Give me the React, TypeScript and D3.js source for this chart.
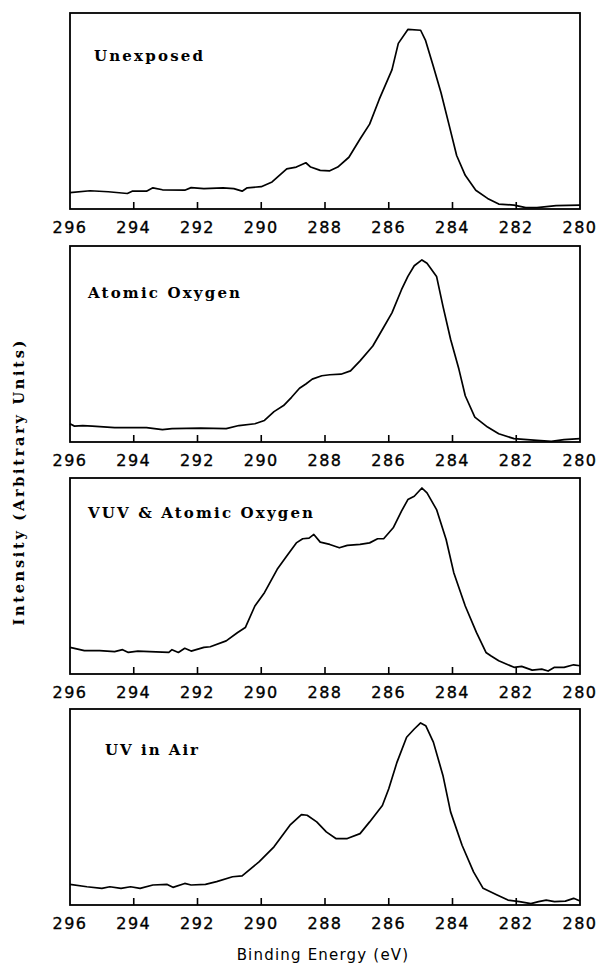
import React from "react";
import * as d3 from "d3";

// Binding energy axis (eV), reversed as usual for XPS
const energyTicks = [296, 294, 292, 290, 288, 286, 284, 282, 280];

const panelTitles = ["Unexposed", "Atomic Oxygen", "VUV & Atomic Oxygen", "UV in Air"];

// C 1s spectra, intensity in arbitrary units (0 = frame bottom, 100 = frame top)
const unexposedEnergy = [296, 295.37, 294.8, 294.2, 294.05, 293.6, 293.4, 293.1, 292.4, 292.2, 291.8, 291.2, 290.86, 290.6, 290.44, 290.0, 289.66, 289.2, 288.9, 288.6, 288.45, 288.15, 287.85, 287.6, 287.25, 286.9, 286.6, 286.3, 285.9, 285.7, 285.4, 285.0, 284.85, 284.6, 284.36, 284.1, 283.87, 283.6, 283.27, 282.9, 282.55, 282.07, 281.7, 281.35, 280.75, 280];
const unexposedIntensity = [8.4, 9.3, 8.8, 7.9, 9.1, 9.1, 10.8, 9.8, 9.6, 10.9, 10.4, 10.8, 10.4, 9.1, 10.8, 11.4, 13.8, 20.5, 21.4, 23.6, 21.4, 19.7, 19.5, 21.4, 26.4, 35.7, 43.3, 55.9, 71.0, 84.5, 91.6, 91.2, 86.2, 72.7, 59.3, 42.4, 27.3, 17.2, 9.6, 5.4, 2.5, 2.0, 0.7, 0.7, 1.7, 2.0];

const atomicOxygenEnergy = [296, 295.86, 295.6, 295.3, 294.6, 293.6, 293.1, 292.8, 291.9, 291.1, 290.7, 290.2, 289.9, 289.6, 289.3, 289.05, 288.8, 288.6, 288.4, 288.1, 287.85, 287.5, 287.2, 286.9, 286.5, 286.2, 285.9, 285.6, 285.4, 285.2, 284.96, 284.8, 284.5, 284.3, 284.06, 283.8, 283.6, 283.3, 282.9, 282.55, 282.07, 281.35, 280.9, 280.5, 280];
const atomicOxygenIntensity = [9.3, 8.1, 8.4, 8.1, 7.3, 7.3, 6.3, 6.8, 7.1, 6.8, 8.4, 9.3, 11.0, 15.5, 18.6, 22.8, 27.4, 29.6, 32.1, 33.8, 34.3, 34.6, 36.3, 41.4, 49.0, 57.4, 65.9, 77.7, 84.5, 89.9, 92.9, 91.2, 84.5, 69.3, 52.4, 37.2, 23.6, 12.7, 7.6, 4.2, 1.7, 0.8, 0.3, 1.2, 1.7];

const vuvEnergy = [296, 295.55, 295.07, 294.6, 294.35, 294.17, 293.87, 293.5, 292.9, 292.8, 292.6, 292.4, 292.2, 291.8, 291.6, 291.1, 290.74, 290.5, 290.2, 289.9, 289.5, 289.2, 288.9, 288.7, 288.5, 288.35, 288.15, 287.85, 287.55, 287.3, 286.9, 286.6, 286.35, 286.16, 285.86, 285.6, 285.4, 285.2, 284.96, 284.8, 284.5, 284.2, 283.96, 283.6, 283.25, 282.95, 282.8, 282.55, 282.07, 281.83, 281.5, 281.2, 281.0, 280.8, 280.5, 280.2, 280];
const vuvIntensity = [13.6, 11.9, 11.9, 11.4, 12.4, 11.0, 11.7, 11.4, 11.0, 12.4, 11.0, 13.1, 11.7, 13.6, 13.9, 16.9, 21.2, 23.7, 34.7, 41.5, 53.4, 60.2, 66.9, 69.0, 69.3, 71.2, 67.3, 66.1, 64.4, 65.6, 66.1, 66.9, 69.0, 69.0, 74.6, 83.1, 89.0, 90.7, 94.9, 92.4, 83.9, 68.6, 51.7, 34.7, 21.2, 11.0, 9.3, 6.8, 3.4, 3.9, 2.0, 2.5, 1.5, 3.4, 3.4, 4.7, 4.2];

const uvAirEnergy = [296, 295.47, 295.0, 294.75, 294.4, 294.1, 293.8, 293.4, 292.95, 292.77, 292.4, 292.2, 291.75, 291.4, 290.9, 290.6, 290.07, 289.6, 289.1, 288.74, 288.56, 288.26, 287.96, 287.66, 287.3, 286.9, 286.6, 286.2, 286.0, 285.74, 285.44, 285.2, 285.0, 284.84, 284.6, 284.3, 284.06, 283.7, 283.34, 283.04, 282.6, 282.26, 281.9, 281.54, 281.3, 281.06, 280.8, 280.46, 280.2, 280];
const uvAirIntensity = [10.5, 9.3, 8.5, 9.3, 8.5, 9.3, 8.5, 10.2, 10.5, 9.0, 11.0, 10.2, 10.5, 11.9, 14.4, 14.9, 22.0, 29.7, 40.7, 46.1, 45.8, 42.4, 37.3, 33.9, 33.9, 36.4, 42.4, 50.8, 59.3, 72.9, 85.6, 89.8, 92.9, 91.5, 83.1, 66.1, 47.5, 30.5, 16.9, 8.5, 5.1, 2.5, 1.7, 0.7, 1.7, 2.5, 1.7, 2.0, 3.4, 2.0];

const spectraEnergy = [unexposedEnergy, atomicOxygenEnergy, vuvEnergy, uvAirEnergy];
const spectraIntensity = [unexposedIntensity, atomicOxygenIntensity, vuvIntensity, uvAirIntensity];

const W = 600;
const H = 967;
const frameLeft = 70;
const frameRight = 580;
const panelTops = [13, 246, 478, 709];
const panelHeight = 196;
// title placement inside each frame, with the set width of each typewriter label
const titleLayout = [
  { dx: 24, dy: 48, width: 109 },
  { dx: 18, dy: 52, width: 152 },
  { dx: 18, dy: 40, width: 225 },
  { dx: 35, dy: 46, width: 93 },
];

const serifFont = "'DejaVu Serif', 'Liberation Serif', serif";
const sansFont = "'DejaVu Sans', 'Liberation Sans', sans-serif";

export default function App() {
  const x = d3.scaleLinear().domain([296, 280]).range([frameLeft, frameRight]);

  return (
    <svg
      width={W}
      height={H}
      viewBox={`0 0 ${W} ${H}`}
      style={{ position: "absolute", left: 0, top: 0, background: "#fff" }}
    >
      <rect x={0} y={0} width={W} height={H} fill="#fff" />
      {panelTops.map((top, i) => {
        const bottom = top + panelHeight;
        const y = d3.scaleLinear().domain([0, 100]).range([bottom, top]);
        const points: [number, number][] = spectraEnergy[i].map((e, k) => [e, spectraIntensity[i][k]]);
        const line = d3
          .line<[number, number]>()
          .x((d) => x(d[0]))
          .y((d) => y(d[1]))
          .curve(d3.curveLinear);
        return (
          <g key={i}>
            <rect
              x={frameLeft}
              y={top}
              width={frameRight - frameLeft}
              height={panelHeight}
              fill="none"
              stroke="#000"
              strokeWidth={1.8}
            />
            {energyTicks.slice(1, -1).map((t) => (
              <line key={t} x1={x(t)} x2={x(t)} y1={bottom} y2={bottom - 7} stroke="#000" strokeWidth={1.6} />
            ))}
            {energyTicks.map((t) => (
              <text
                key={t}
                x={x(t)}
                y={bottom + 24}
                textAnchor="middle"
                fontFamily={sansFont}
                fontSize={16}
                letterSpacing={1.5}
                stroke="#000"
                strokeWidth={0.35}
                fill="#000"
              >
                {t}
              </text>
            ))}
            <path d={line(points) ?? ""} fill="none" stroke="#000" strokeWidth={1.7} strokeLinejoin="round" />
            <text
              x={frameLeft + titleLayout[i].dx}
              y={top + titleLayout[i].dy}
              fontFamily={serifFont}
              fontWeight="bold"
              fontSize={15}
              textLength={titleLayout[i].width}
              lengthAdjust="spacing"
              fill="#000"
            >
              {panelTitles[i]}
            </text>
          </g>
        );
      })}
      <text
        transform={`translate(24, 483) rotate(-90)`}
        textAnchor="middle"
        fontFamily={serifFont}
        fontWeight="bold"
        fontSize={14.5}
        textLength={285}
        lengthAdjust="spacing"
        fill="#000"
      >
        Intensity (Arbitrary Units)
      </text>
      <text
        x={323}
        y={960}
        textAnchor="middle"
        fontFamily={sansFont}
        fontSize={15}
        letterSpacing={1.2}
        fill="#000"
      >
        Binding Energy (eV)
      </text>
    </svg>
  );
}
